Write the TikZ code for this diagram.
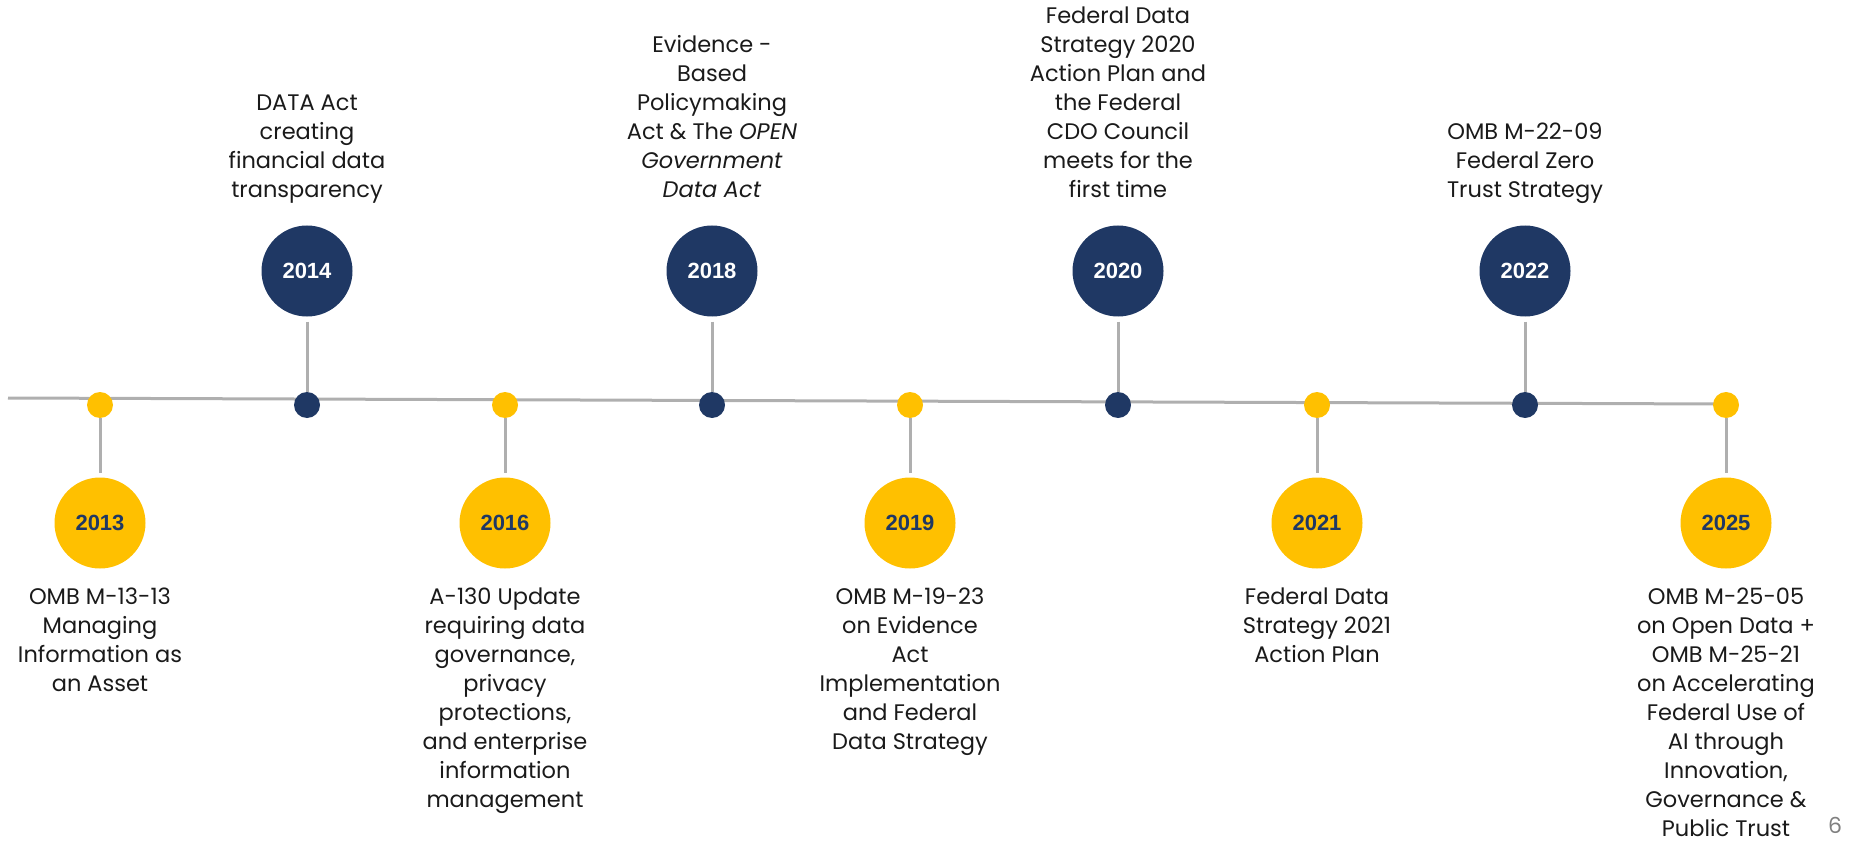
\documentclass[tikz,border=0pt]{standalone}
\usepackage{fontspec}
\setmainfont{Poppins}
\newfontfamily\yearfont{Liberation Sans}
\definecolor{navy}{HTML}{1F3864}
\definecolor{gold}{HTML}{FFC000}
\definecolor{rulegray}{HTML}{AFAFAF}
\definecolor{ink}{HTML}{1A1A1A}

\begin{document}
\begin{tikzpicture}[x=1pt,y=-1pt,
    axis/.style={draw=rulegray,line width=3pt},
    stem/.style={draw=rulegray,line width=3pt},
    dotn/.style={circle,fill=navy,minimum size=26pt,inner sep=0pt},
    doty/.style={circle,fill=gold,minimum size=26pt,inner sep=0pt},
    yearn/.style={circle,fill=navy,minimum size=91pt,inner sep=0pt,text=white,font=\yearfont\bfseries\fontsize{22}{26}\selectfont},
    yeary/.style={circle,fill=gold,minimum size=91pt,inner sep=0pt,text=navy,font=\yearfont\bfseries\fontsize{22}{26}\selectfont},
    toptxt/.style={align=center,inner sep=0pt,anchor=south,text=ink,font=\fontsize{22.5}{29}\selectfont,execute at end node=\strut},
    bottxt/.style={align=center,inner sep=0pt,anchor=north,text=ink,font=\fontsize{22.5}{29}\selectfont,execute at begin node=\strut}]
    \useasboundingbox (0,0) rectangle (1849,842);

    \coordinate (lstart) at (8,398);
    \coordinate (lend) at (1726,404);
    \draw[axis] (lstart) -- (lend);

    \node[doty] (dot13) at (100,405) {};
    \node[yeary] (yr13) at (100,523) {2013};
    \draw[stem,shorten >=4pt] (dot13) -- (yr13);
    \node[bottxt] (txt13) at (100,588) {OMB M-13-13\\Managing\\Information as\\an Asset};

    \node[dotn] (dot14) at (307,405) {};
    \node[yearn] (yr14) at (307,271) {2014};
    \draw[stem,shorten <=5pt] (yr14) -- (dot14);
    \node[toptxt] (txt14) at (307,206) {DATA Act\\creating\\financial data\\transparency};

    \node[doty] (dot16) at (505,405) {};
    \node[yeary] (yr16) at (505,523) {2016};
    \draw[stem,shorten >=4pt] (dot16) -- (yr16);
    \node[bottxt] (txt16) at (505,588) {A-130 Update\\requiring data\\governance,\\privacy\\protections,\\and enterprise\\information\\management};

    \node[dotn] (dot18) at (712,405) {};
    \node[yearn] (yr18) at (712,271) {2018};
    \draw[stem,shorten <=5pt] (yr18) -- (dot18);
    \node[toptxt] (txt18) at (712,206) {Evidence -\\Based\\Policymaking\\Act \& The \textit{OPEN}\\\textit{Government}\\\textit{Data Act}};

    \node[doty] (dot19) at (910,405) {};
    \node[yeary] (yr19) at (910,523) {2019};
    \draw[stem,shorten >=4pt] (dot19) -- (yr19);
    \node[bottxt] (txt19) at (910,588) {OMB M-19-23\\on Evidence\\Act\\Implementation\\and Federal\\Data Strategy};

    \node[dotn] (dot20) at (1118,405) {};
    \node[yearn] (yr20) at (1118,271) {2020};
    \draw[stem,shorten <=5pt] (yr20) -- (dot20);
    \node[toptxt] (txt20) at (1118,206) {Federal Data\\Strategy 2020\\Action Plan and\\the Federal\\CDO Council\\meets for the\\first time};

    \node[doty] (dot21) at (1317,405) {};
    \node[yeary] (yr21) at (1317,523) {2021};
    \draw[stem,shorten >=4pt] (dot21) -- (yr21);
    \node[bottxt] (txt21) at (1317,588) {Federal Data\\Strategy 2021\\Action Plan};

    \node[dotn] (dot22) at (1525,405) {};
    \node[yearn] (yr22) at (1525,271) {2022};
    \draw[stem,shorten <=5pt] (yr22) -- (dot22);
    \node[toptxt] (txt22) at (1525,206) {OMB M-22-09\\Federal Zero\\Trust Strategy};

    \node[doty] (dot25) at (1726,405) {};
    \node[yeary] (yr25) at (1726,523) {2025};
    \draw[stem,shorten >=4pt] (dot25) -- (yr25);
    \node[bottxt] (txt25) at (1726,588) {OMB M-25-05\\on Open Data +\\OMB M-25-21\\on Accelerating\\Federal Use of\\AI through\\Innovation,\\Governance \&\\Public Trust};

    \node[anchor=base,inner sep=0pt,text=gray,font=\fontsize{22}{26}\selectfont] (pnum) at (1835,833) {6};
\end{tikzpicture}
\end{document}
